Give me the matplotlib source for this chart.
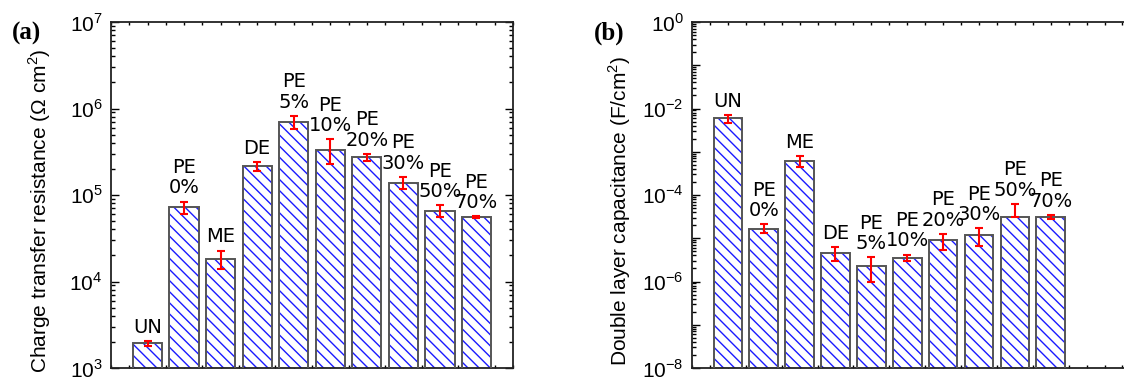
import numpy as np
import matplotlib
matplotlib.use("Agg")
import matplotlib.pyplot as plt
from matplotlib.ticker import LogLocator, NullFormatter, FixedLocator, NullLocator

plt.rcParams['font.family'] = ['Liberation Sans', 'DejaVu Sans']
plt.rcParams['mathtext.fontset'] = 'custom'
plt.rcParams['mathtext.rm'] = 'Liberation Sans'
plt.rcParams['hatch.linewidth'] = 1.0

labels = ['UN', 'PE\n0%', 'ME', 'DE', 'PE\n5%', 'PE\n10%', 'PE\n20%', 'PE\n30%', 'PE\n50%', 'PE\n70%']

# charge transfer resistance (ohm cm2)
rct = [1.94e3, 7.2e4, 1.83e4, 2.14e5, 7.0e5, 3.34e5, 2.72e5, 1.39e5, 6.6e4, 5.52e4]
rct_err = [1.2e2, 1.2e4, 4.5e3, 2.5e4, 1.2e5, 1.05e5, 2.6e4, 2.3e4, 1.0e4, 1.5e3]

# double layer capacitance (F/cm2)
cdl = [5.9e-3, 1.67e-5, 6.2e-4, 4.67e-6, 2.3e-6, 3.58e-6, 9.0e-6, 1.17e-5, 3.05e-5, 3.16e-5]
cdl_err_lo = [1.3e-3, 3.8e-6, 1.8e-4, 1.7e-6, 1.3e-6, 6.0e-7, 3.7e-6, 5.2e-6, 0.0, 3.0e-6]
cdl_err_hi = [1.2e-3, 4.2e-6, 1.9e-4, 1.7e-6, 1.3e-6, 6.0e-7, 3.6e-6, 5.2e-6, 3.1e-5, 3.0e-6]

fig = plt.figure(figsize=(11.24, 3.81), dpi=100)
W, H = 1124, 381
ax1 = fig.add_axes([111 / W, 13 / H, 402 / W, 346 / H])
ax2 = fig.add_axes([692 / W, 13 / H, 452 / W, 346 / H])


def draw(ax, vals, err, ylim, ylabel, label_every, xmax, label_x):
    x = np.arange(len(vals))
    # hatch layer, then outline on top
    ax.bar(x, vals, width=0.8, color='white', edgecolor='#1a1aff', hatch='\\\\\\',
           linewidth=0, zorder=2)
    ax.bar(x, vals, width=0.8, color='none', edgecolor='#555555', linewidth=1.4, zorder=3)
    ax.errorbar(x, vals, yerr=err, fmt='none', ecolor='red', elinewidth=1.5,
                capsize=3, capthick=1.5, zorder=4)
    ax.set_yscale('log')
    ax.set_ylim(*ylim)
    ax.set_xlim(-1, xmax)
    ax.set_ylabel(ylabel, fontsize=15)
    ax.yaxis.set_label_coords(label_x, 0.455)

    lo, hi = int(np.log10(ylim[0])), int(np.log10(ylim[1]))
    ax.yaxis.set_major_locator(FixedLocator([10.0 ** k for k in range(lo, hi + 1)]))
    ax.yaxis.set_minor_locator(LogLocator(base=10, subs=np.arange(2, 10), numticks=50))
    ax.yaxis.set_minor_formatter(NullFormatter())
    ax.set_yticklabels([r'$10^{%d}$' % k if (k - lo) % label_every == 0 else ''
                        for k in range(lo, hi + 1)])
    ax.xaxis.set_major_locator(NullLocator())
    ax.xaxis.set_minor_locator(FixedLocator(np.arange(-1, 13, 0.5)))
    ax.tick_params(axis='y', which='major', direction='in', length=6, width=1,
                   labelsize=15, pad=6, right=True)
    ax.tick_params(axis='y', which='minor', direction='in', length=3, width=1, right=True)
    ax.tick_params(axis='x', which='minor', direction='in', length=2, width=1, top=True)
    for s in ax.spines.values():
        s.set_linewidth(1.3)
        s.set_color('#222222')

    top = np.array(vals) + (np.array(err)[1] if np.ndim(err) == 2 else np.array(err))
    for xi, t, lab in zip(x, top, labels):
        ax.annotate(lab, (xi, t), xytext=(0, 3), textcoords='offset points',
                    ha='center', va='bottom', fontsize=14, linespacing=1.1,
                    family='DejaVu Sans')


draw(ax1, rct, rct_err, (1e3, 1e7), r'Charge transfer resistance ($\Omega$ cm$^2$)',
     1, 10, -0.145)
draw(ax2, cdl, [cdl_err_lo, cdl_err_hi], (1e-8, 1e0),
     r'Double layer capacitance (F/cm$^2$)', 2, 11.6, -0.13)

fig.text(12 / W, 1 - 33 / H, '(a)', fontsize=18, fontweight='bold',
         family='Liberation Serif', va='center')
fig.text(594 / W, 1 - 33 / H, '(b)', fontsize=18, fontweight='bold',
         family='Liberation Serif', va='center')

fig.savefig('out.png', dpi=100)
